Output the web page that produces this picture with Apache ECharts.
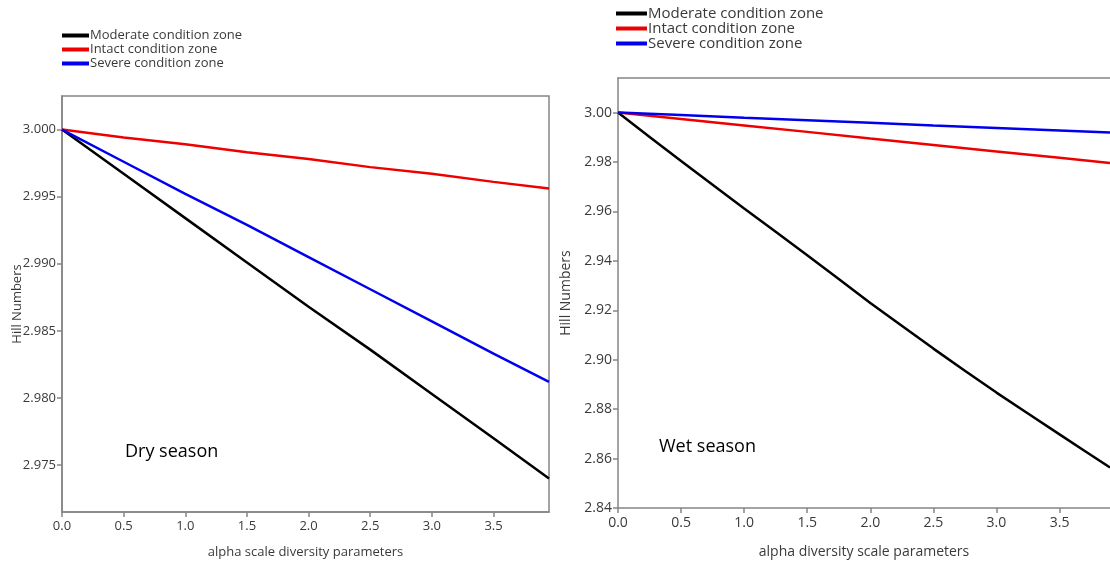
<!DOCTYPE html>
<html>
<head>
<meta charset="utf-8">
<script src="https://cdn.jsdelivr.net/npm/echarts@6/dist/echarts.min.js"></script>
<style>
  html, body { margin: 0; padding: 0; background: #fff; }
  #chart { width: 1110px; height: 564px; }
</style>
</head>
<body>
<div id="chart"></div>
<script>
var seriesNames = ['Moderate condition zone', 'Intact condition zone', 'Severe condition zone'];

// alpha values read at each 0.5 tick plus the right edge
var dryAlpha = [0, 0.5, 1.0, 1.5, 2.0, 2.5, 3.0, 3.5, 3.95];
var dryModerate = [3.0000, 2.9967, 2.9934, 2.9901, 2.9868, 2.9836, 2.9803, 2.9770, 2.9740];
var dryIntact = [3.0000, 2.9994, 2.9989, 2.9983, 2.9978, 2.9972, 2.9967, 2.9961, 2.9956];
var drySevere = [3.0000, 2.9976, 2.9952, 2.9929, 2.9905, 2.9881, 2.9857, 2.9833, 2.9812];

var wetAlpha = [0, 0.5, 1.0, 1.5, 2.0, 2.5, 3.0, 3.5, 3.9];
var wetModerate = [3.0000, 2.9804, 2.9612, 2.9423, 2.9230, 2.9045, 2.8867, 2.8698, 2.8564];
var wetIntact = [3.0000, 2.9974, 2.9948, 2.9922, 2.9895, 2.9869, 2.9843, 2.9817, 2.9796];
var wetSevere = [3.0000, 2.9990, 2.9979, 2.9969, 2.9959, 2.9948, 2.9938, 2.9928, 2.9919];

var xTicks = [0, 0.5, 1.0, 1.5, 2.0, 2.5, 3.0, 3.5];
var dryYTicks = [2.975, 2.980, 2.985, 2.990, 2.995, 3.000];
var wetYTicks = [2.84, 2.86, 2.88, 2.90, 2.92, 2.94, 2.96, 2.98, 3.00];

var colors = ['#000000', '#ee0000', '#0000ee'];
var frame = '#858585';
var labelColor = '#3a3a3a';
var font = 'Open Sans, Noto Sans, sans-serif';

function pairs(xs, ys) {
	return xs.map(function (x, i) { return [x, ys[i]]; });
}

function xAxis(gridIndex, max, name, size, gap) {
	return {
		type : 'value',
		gridIndex : gridIndex,
		min : 0,
		max : max,
		name : name,
		nameLocation : 'middle',
		nameGap : gap,
		nameTextStyle : { color : labelColor, fontSize : size, fontFamily : font },
		splitLine : { show : false },
		axisLine : { lineStyle : { color : frame, width : 1.5 } },
		axisTick : { customValues : xTicks, length : 5, lineStyle : { color : frame, width : 1.5 } },
		axisLabel : {
			customValues : xTicks, margin : 8, color : labelColor, fontSize : size, fontFamily : font,
			formatter : function (v) { return v.toFixed(1); }
		}
	};
}

function yAxis(gridIndex, min, max, ticks, digits, size, gap) {
	return {
		type : 'value',
		gridIndex : gridIndex,
		min : min,
		max : max,
		name : 'Hill Numbers',
		nameLocation : 'middle',
		nameGap : gap,
		nameMoveOverlap : false,
		nameTextStyle : { color : labelColor, fontSize : size, fontFamily : font },
		splitLine : { show : false },
		axisLine : { lineStyle : { color : frame, width : 1.5 } },
		axisTick : { customValues : ticks, length : 5, lineStyle : { color : frame, width : 1.5 } },
		axisLabel : {
			customValues : ticks, margin : 6, color : labelColor, fontSize : size, fontFamily : font,
			formatter : function (v) { return v.toFixed(digits); }
		}
	};
}

function line(name, i, xIndex, yIndex, xs, ys, smooth) {
	return {
		name : name,
		type : 'line',
		xAxisIndex : xIndex,
		yAxisIndex : yIndex,
		data : pairs(xs, ys),
		showSymbol : false,
		smooth : smooth,
		lineStyle : { color : colors[i], width : 2.5 },
		itemStyle : { color : colors[i] }
	};
}

var myChart = echarts.init(document.getElementById('chart'));
option = {
	animation : false,
	backgroundColor : '#fff',
	color : colors,
	legend : [ {
		orient : 'vertical',
		left : 57,
		top : 24,
		itemWidth : 27,
		itemHeight : 4,
		itemGap : 1,
		icon : 'rect',
		data : seriesNames,
		textStyle : { color : labelColor, fontSize : 13, fontFamily : font, padding : [0, 0, 0, -4] }
	}, {
		orient : 'vertical',
		left : 611,
		top : 1,
		itemWidth : 31,
		itemHeight : 4,
		itemGap : 0,
		icon : 'rect',
		data : seriesNames,
		textStyle : { color : labelColor, fontSize : 15, fontFamily : font, padding : [0, 0, 0, -4] }
	} ],
	grid : [ {
		left : 62, top : 96, width : 487, height : 416,
		show : true, borderColor : frame, borderWidth : 1.5, backgroundColor : '#fff'
	}, {
		left : 618, top : 78, width : 492, height : 431
	} ],
	xAxis : [
		xAxis(0, 3.95, 'alpha scale diversity parameters', 13, 34),
		xAxis(1, 3.9, 'alpha diversity scale parameters', 14, 37),
		// top edge of the wet-season frame
		{
			type : 'value', gridIndex : 1, position : 'top', min : 0, max : 3.9,
			splitLine : { show : false }, axisTick : { show : false }, axisLabel : { show : false },
			axisLine : { lineStyle : { color : frame, width : 1.5 } }
		}
	],
	yAxis : [
		yAxis(0, 2.9715, 3.0025, dryYTicks, 3, 13, 38),
		yAxis(1, 2.84, 3.014, wetYTicks, 2, 14, 45)
	],
	graphic : [ {
		type : 'text', left : 125, top : 443,
		style : { text : 'Dry season', fill : '#000', font : '18px ' + font }
	}, {
		type : 'text', left : 659, top : 438,
		style : { text : 'Wet season', fill : '#000', font : '18px ' + font }
	} ],
	series : [
		line(seriesNames[0], 0, 0, 0, dryAlpha, dryModerate, false),
		line(seriesNames[1], 1, 0, 0, dryAlpha, dryIntact, false),
		line(seriesNames[2], 2, 0, 0, dryAlpha, drySevere, false),
		line(seriesNames[0], 0, 1, 1, wetAlpha, wetModerate, 0.2),
		line(seriesNames[1], 1, 1, 1, wetAlpha, wetIntact, false),
		line(seriesNames[2], 2, 1, 1, wetAlpha, wetSevere, false)
	]
};
myChart.setOption(option);
</script>
</body>
</html>
